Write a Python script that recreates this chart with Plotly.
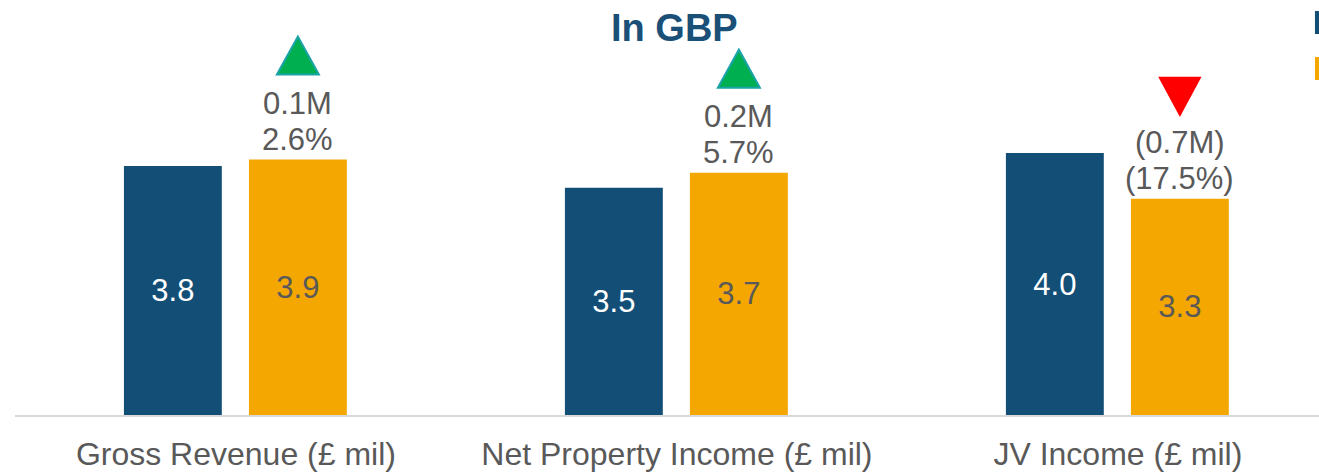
import plotly.graph_objects as go

# category names and the two periods' values (£ mil)
categories = ["Gross Revenue (£ mil)", "Net Property Income (£ mil)", "JV Income (£ mil)"]
prior_values = [3.80, 3.47, 4.00]
current_values = [3.90, 3.70, 3.30]
change_amount = ["0.1M", "0.2M", "(0.7M)"]
change_pct = ["2.6%", "5.7%", "(17.5%)"]
change_up = [True, True, False]

BLUE = "#134E77"
ORANGE = "#F4A700"
GREY = "#595959"
FONT = "Arial, Liberation Sans, sans-serif"

BAR_W = 0.222
BLUE_OFF = -0.254
ORANGE_OFF = 0.0295

x = list(range(len(categories)))
fig = go.Figure()

fig.add_trace(go.Bar(
    x=x, y=prior_values, width=BAR_W, offset=BLUE_OFF,
    marker=dict(color=BLUE, line=dict(width=0)),
    texttemplate="%{y:.1f}", textposition="inside", insidetextanchor="middle",
    textfont=dict(color="white", size=31, family=FONT),
    textangle=0, showlegend=False, hoverinfo="skip",
))
fig.add_trace(go.Bar(
    x=x, y=current_values, width=BAR_W, offset=ORANGE_OFF,
    marker=dict(color=ORANGE, line=dict(width=0)),
    texttemplate="%{y:.1f}", textposition="inside", insidetextanchor="middle",
    textfont=dict(color=GREY, size=31, family=FONT),
    textangle=0, showlegend=False, hoverinfo="skip",
))

# change labels + arrow triangles above the current-period bars
orange_mid = ORANGE_OFF + BAR_W / 2
for i, (v, amt, pct, up) in enumerate(zip(current_values, change_amount, change_pct, change_up)):
    fig.add_annotation(
        x=i + orange_mid, y=v, text=pct, showarrow=False, yanchor="bottom", yshift=1,
        font=dict(size=31, color=GREY, family=FONT),
    )
    fig.add_annotation(
        x=i + orange_mid, y=v, text=amt, showarrow=False, yanchor="bottom", yshift=37,
        font=dict(size=31, color=GREY, family=FONT),
    )
    if up:
        path = "M -21 85 L 21 85 L 0 123 Z"
        fill, edge = "#00B050", "#1BA3A8"
    else:
        path = "M -20 121 L 20 121 L 0 84 Z"
        fill, edge = "#FF0000", "#FF0000"
    fig.add_shape(
        type="path", xref="x", yref="y", xsizemode="pixel", ysizemode="pixel",
        xanchor=i + orange_mid, yanchor=v, path=path,
        fillcolor=fill, line=dict(color=edge, width=2),
    )

# title
fig.add_annotation(
    x=0.5054, y=0.9325, xref="paper", yref="paper", yanchor="middle",
    text="<b>In GBP</b>", showarrow=False,
    font=dict(size=38, color="#1A4F78", family=FONT),
)

# legend keys cut off at the right edge
fig.add_shape(type="rect", xref="paper", yref="paper", x0=0.9969, x1=1.01,
              y0=0.918, y1=0.9735, fillcolor=BLUE, line=dict(width=0))
fig.add_shape(type="rect", xref="paper", yref="paper", x0=0.9969, x1=1.01,
              y0=0.8072, y1=0.8627, fillcolor=ORANGE, line=dict(width=0))

fig.update_xaxes(
    range=[-0.501, 2.456], tickvals=x, ticktext=categories,
    showline=True, linecolor="#D9D9D9", linewidth=2, showgrid=False,
    zeroline=False, ticks="", ticklabelstandoff=10,
    tickfont=dict(size=32, color=GREY, family=FONT),
)
fig.update_yaxes(range=[0, 6.336], visible=False, showgrid=False, zeroline=False)

fig.update_layout(
    width=1319, height=473,
    margin=dict(l=15, r=0, t=0, b=58),
    plot_bgcolor="white", paper_bgcolor="white",
    font=dict(family=FONT),
)

# drop the browser's default body margin so the figure fills the window
fig.write_html("out.html", config={"displayModeBar": False},
               post_script="document.body.style.margin='0';")
